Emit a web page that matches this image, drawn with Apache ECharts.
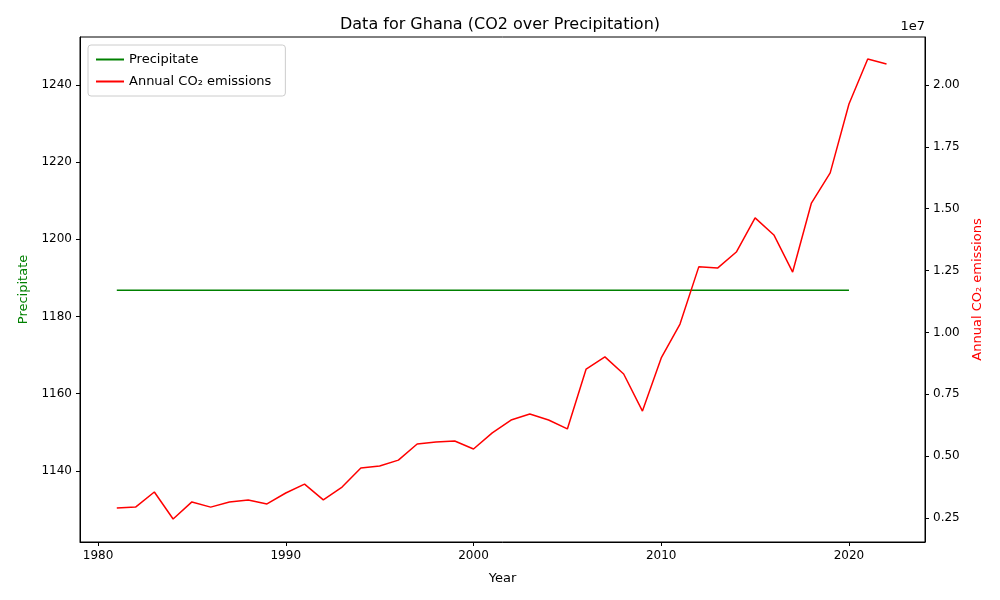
<!DOCTYPE html>
<html><head><meta charset="utf-8">
<script src="https://cdn.jsdelivr.net/npm/echarts@6/dist/echarts.min.js"></script>
<style>html,body{margin:0;background:#fff}#c{width:1000px;height:600px}</style>
</head><body><div id="c"></div>
<script>
const years = [];
for (let y = 1981; y <= 2022; y++) years.push(y);
const precipYears = years.filter(y => y <= 2020);
const precipValues = precipYears.map(() => 1186.8);
const co2Values = [0.290,0.294,0.355,0.246,0.315,0.294,0.315,0.323,0.307,0.351,0.387,0.323,0.375,0.452,0.460,0.484,0.549,0.557,0.561,0.529,0.594,0.646,0.670,0.646,0.610,0.852,0.901,0.832,0.682,0.897,1.034,1.265,1.260,1.325,1.463,1.394,1.244,1.523,1.645,1.923,2.105,2.085]; // ×1e7
const xTicks = [1980,1990,2000,2010,2020];
const leftTicks = [1140,1160,1180,1200,1220,1240];
const rightTicks = [0.25,0.5,0.75,1.0,1.25,1.5,1.75,2.0];
const font = 'DejaVu Sans';
const chart = echarts.init(document.getElementById('c'));
const tick = {show:true, length:4, inside:false, lineStyle:{color:'#000'}};
chart.setOption({
  animation:false,
  textStyle:{fontFamily:font},
  title:{text:'Data for Ghana (CO2 over Precipitation)', left:'center', top:12, textStyle:{fontSize:16, fontWeight:'normal', color:'#000', fontFamily:font}},
  grid:{left:80, right:75, top:37, bottom:58, show:true, borderColor:'#000', borderWidth:1},
  legend:{left:88, top:45, orient:'vertical', itemWidth:28, itemHeight:2, itemGap:9, padding:[8,14,8,8],
    borderColor:'#ccc', borderWidth:1, borderRadius:3, textStyle:{fontSize:13, color:'#000'},
    data:[{name:'Precipitate', icon:'rect'},{name:'Annual CO₂ emissions', icon:'rect'}]},
  graphic:[{type:'text', right:75, top:20, style:{text:'1e7', fontSize:13, fill:'#000', fontFamily:font, textAlign:'right'}}],
  xAxis:{type:'value', min:1979.04, max:2024.05, name:'Year', nameLocation:'middle', nameGap:30,
    nameTextStyle:{fontSize:13, color:'#000'}, splitLine:{show:false},
    axisLine:{lineStyle:{color:'#000'}}, axisTick:Object.assign({customValues:xTicks}, tick),
    axisLabel:{customValues:xTicks, fontSize:12, color:'#000', formatter:v=>String(v)}},
  yAxis:[
    {type:'value', min:1121.6, max:1252.4, name:'Precipitate', nameLocation:'middle', nameGap:50,
     nameTextStyle:{fontSize:13, color:'green'}, splitLine:{show:false},
     axisLine:{show:true, lineStyle:{color:'#000'}}, axisTick:Object.assign({customValues:leftTicks}, tick),
     axisLabel:{customValues:leftTicks, fontSize:12, color:'#000', formatter:v=>String(v)}},
    {type:'value', position:'right', min:0.153, max:2.194, name:'Annual CO₂ emissions', nameLocation:'middle', nameGap:46,
     nameTextStyle:{fontSize:13, color:'red'}, splitLine:{show:false},
     axisLine:{show:true, lineStyle:{color:'#000'}}, axisTick:Object.assign({customValues:rightTicks}, tick),
     axisLabel:{customValues:rightTicks, fontSize:12, color:'#000', formatter:v=>v.toFixed(2)}}
  ],
  series:[
    {name:'Precipitate', type:'line', yAxisIndex:0, showSymbol:false, color:'green', lineStyle:{width:1.5},
     data:precipYears.map((y,i)=>[y,precipValues[i]])},
    {name:'Annual CO₂ emissions', type:'line', yAxisIndex:1, showSymbol:false, color:'red', lineStyle:{width:1.5},
     data:years.map((y,i)=>[y,co2Values[i]])}
  ]
});
</script></body></html>
